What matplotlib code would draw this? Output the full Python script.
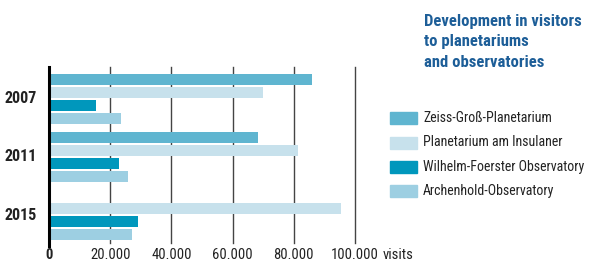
import matplotlib
matplotlib.use("Agg")
import matplotlib.pyplot as plt
from matplotlib import font_manager as fm
from matplotlib.patches import Rectangle

def pick_font(cands):
    for c in cands:
        try:
            fm.findfont(fm.FontProperties(family=c), fallback_to_default=False)
            return c
        except Exception:
            pass
    return "DejaVu Sans"

FONT = pick_font(["Liberation Sans Narrow", "Roboto Condensed", "Open Sans Condensed", "Roboto", "Liberation Sans"])

years = ["2007", "2011", "2015"]
series = ["Zeiss-Groß-Planetarium", "Planetarium am Insulaner",
          "Wilhelm-Foerster Observatory", "Archenhold-Observatory"]
zeiss = [86000, 68200, 0]
insulaner = [69800, 81300, 95300]
foerster = [15400, 22900, 29100]
archenhold = [23400, 25800, 27100]
colors = ["#5fb5d0", "#c7e1ec", "#0097bc", "#9dcfe2"]
xticks = [0, 20000, 40000, 60000, 80000, 100000]
xticklabels = ["0", "20.000", "40.000", "60.000", "80.000", "100.000"]
title_lines = ["Development in visitors", "to planetariums", "and observatories"]
unit = "visits"

W, H = 591, 264
fig = plt.figure(figsize=(W / 100, H / 100), dpi=100)
ax = fig.add_axes([49 / W, 1 - 243 / H, 306 / W, 176 / H])

values = [zeiss, insulaner, foerster, archenhold]
gpitch = 4.5
for s, vals in enumerate(values):
    for g, v in enumerate(vals):
        if v > 0:
            ax.barh(g * gpitch + s, v, height=0.85, color=colors[s], zorder=2)

ax.set_ylim(-0.97 + 13.64, -0.97)
ax.set_xlim(0, 100000)
for sp in ax.spines.values():
    sp.set_visible(False)
ax.set_yticks([])
ax.set_xticks([])

for x in xticks[1:]:
    ax.axvline(x, color="#444444", lw=1.0, zorder=1, clip_on=False)
ax.axvline(0, color="black", lw=2.2, zorder=3, clip_on=False, ymin=-0.015)

for x, lab in zip(xticks, xticklabels):
    ax.text(x, -0.068, lab, transform=ax.get_xaxis_transform(), ha="center", va="center",
            fontsize=10.5, fontfamily=FONT, color="#222222",
            fontweight="bold" if x == 0 else "normal")
fig.text(383 / W, 1 - 255 / H, unit, ha="left", va="center", fontsize=10.5,
         fontfamily=FONT, color="#222222")

for g, y in enumerate(years):
    ax.text(-12 / 306 * 100000, g * gpitch + 1.5, y, ha="right", va="center",
            fontsize=11.5, fontweight="bold", fontfamily=FONT, color="#222222")

# title
for i, line in enumerate(title_lines):
    fig.text(424 / W, 1 - (26 + 20.4 * i) / H, line, ha="left", va="baseline", fontsize=12,
             fontweight="bold", fontfamily=FONT, color="#1d5e98")

# legend
ys = [118.3, 142.5, 166.7, 190.7]
for s, name in enumerate(series):
    fig.patches.append(Rectangle((390 / W, 1 - (ys[s] + 6) / H), 27 / W, 12 / H,
                                 transform=fig.transFigure, color=colors[s]))
    fig.text(423 / W, 1 - ys[s] / H, name, ha="left", va="center", fontsize=10,
             fontfamily=FONT, color="#222222")

fig.savefig("out.png", dpi=100)
